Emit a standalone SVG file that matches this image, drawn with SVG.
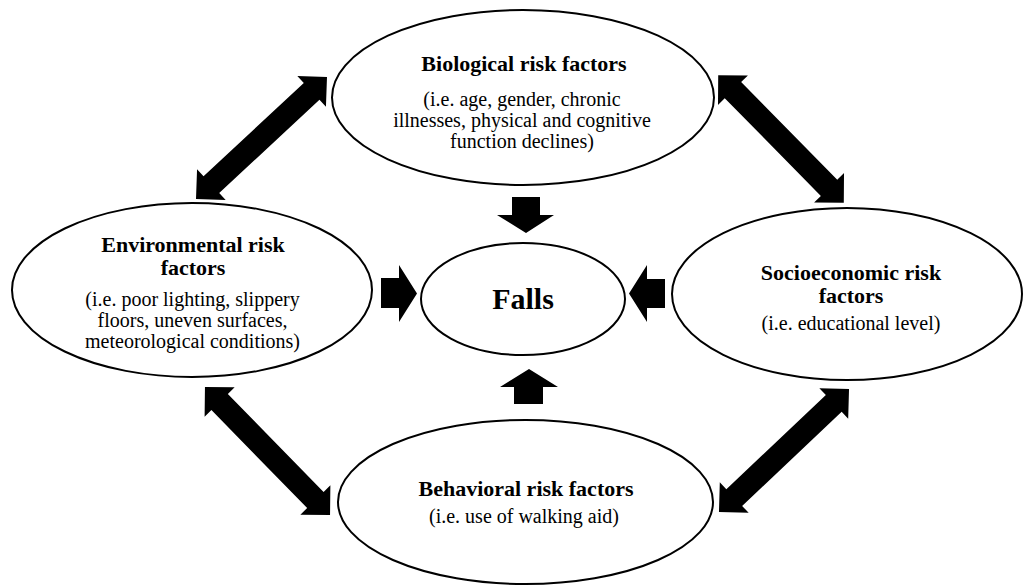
<svg xmlns="http://www.w3.org/2000/svg" xmlns:xlink="http://www.w3.org/1999/xlink" width="1023" height="586" viewBox="0 0 1023 586">
<style>
.node{fill:#fff;stroke:#000;stroke-width:2}
.txt{font-family:"Liberation Serif","Times New Roman",serif;font-size:20px;fill:#000;text-anchor:middle}
.t{font-weight:bold;font-size:22px}
.f{font-family:"Liberation Serif","Times New Roman",serif;font-weight:bold;font-size:30px;fill:#000;text-anchor:middle}
.arr{fill:#000;stroke:none}
</style>
<defs>
<polygon id="dbl" points="-89.5,0 -68.5,-21 -68.5,-11.5 68.5,-11.5 68.5,-21 89.5,0 68.5,21 68.5,11.5 -68.5,11.5 -68.5,21"/>
</defs>
<rect width="1023" height="586" fill="#fff"/>
<g id="connectors" class="arr">
<use xlink:href="#dbl" href="#dbl" transform="translate(261.5,138) rotate(-42.96)"/>
<use xlink:href="#dbl" href="#dbl" transform="translate(781,139) rotate(45.45)"/>
<use xlink:href="#dbl" href="#dbl" transform="translate(267.5,451) rotate(45.67)"/>
<use xlink:href="#dbl" href="#dbl" transform="translate(784,450.5) rotate(-43.4)"/>
<polygon points="512,197 540,197 540,215 554,215 526,233 497,215 512,215"/>
<polygon points="381,278 399,278 399,265 417,293.5 399,322 399,308 381,308"/>
<polygon points="665,279 647,279 647,265 629,293.5 647,322 647,308 665,308"/>
<polygon points="514,404 543,404 543,387 558,387 529,369 500,387 514,387"/>
</g>
<g id="biological">
<ellipse class="node" cx="523" cy="97.5" rx="191" ry="87.5"/>
<text class="txt"><tspan class="t" x="524" y="70.5">Biological risk factors</tspan><tspan x="522" y="105.5">(i.e. age, gender, chronic</tspan><tspan x="522" y="126.5">illnesses, physical and cognitive</tspan><tspan x="522" y="147.5">function declines)</tspan></text>
</g>
<g id="environmental">
<ellipse class="node" cx="192" cy="290" rx="180" ry="87"/>
<text class="txt"><tspan class="t" x="193" y="251.5">Environmental risk</tspan><tspan class="t" x="193" y="274.5">factors</tspan><tspan x="192.5" y="305.5">(i.e. poor lighting, slippery</tspan><tspan x="192.5" y="326.5">floors, uneven surfaces,</tspan><tspan x="192.5" y="347.5">meteorological conditions)</tspan></text>
</g>
<g id="falls">
<ellipse class="node" cx="523" cy="299" rx="102" ry="56"/>
<text class="f" x="523" y="309">Falls</text>
</g>
<g id="socioeconomic">
<ellipse class="node" cx="847" cy="294" rx="175" ry="86"/>
<text class="txt"><tspan class="t" x="851" y="279.5">Socioeconomic risk</tspan><tspan class="t" x="851" y="302.5">factors</tspan><tspan x="851" y="329.5">(i.e. educational level)</tspan></text>
</g>
<g id="behavioral">
<ellipse class="node" cx="525.5" cy="502" rx="187.5" ry="82"/>
<text class="txt"><tspan class="t" x="526" y="496">Behavioral risk factors</tspan><tspan x="524" y="523">(i.e. use of walking aid)</tspan></text>
</g>
</svg>
